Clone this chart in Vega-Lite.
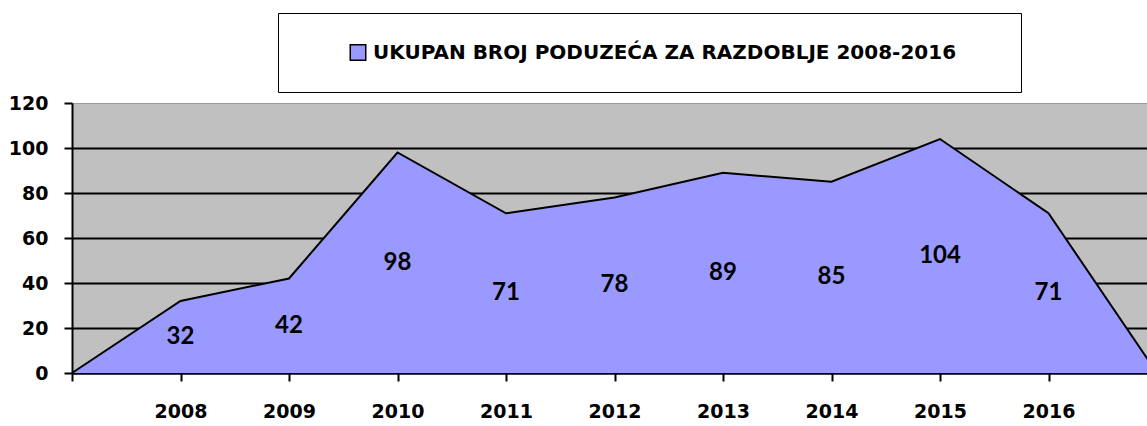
{
  "$schema": "https://vega.github.io/schema/vega-lite/v6.json",
  "width": 1085,
  "height": 270,
  "autosize": {"type": "none"},
  "padding": {"left": 72, "top": 103, "right": 0, "bottom": 53},
  "background": "white",
  "config": {
    "view": {"fill": "#C0C0C0", "stroke": null},
    "font": "DejaVu Sans"
  },
  "data": {
    "values": [
      {"year": 2007, "count": 0},
      {"year": 2008, "count": 32},
      {"year": 2009, "count": 42},
      {"year": 2010, "count": 98},
      {"year": 2011, "count": 71},
      {"year": 2012, "count": 78},
      {"year": 2013, "count": 89},
      {"year": 2014, "count": 85},
      {"year": 2015, "count": 104},
      {"year": 2016, "count": 71},
      {"year": 2017, "count": 0}
    ]
  },
  "layer": [
    {
      "encoding": {
        "x": {
          "field": "year",
          "type": "quantitative",
          "scale": {"domain": [2007, 2017], "nice": false, "zero": false},
          "axis": {
            "values": [2007, 2008, 2009, 2010, 2011, 2012, 2013, 2014, 2015, 2016],
            "format": "d",
            "labelExpr": "datum.value == 2007 ? '' : datum.label",
            "title": null,
            "grid": false,
            "domainColor": "black",
            "domainWidth": 2,
            "tickColor": "black",
            "tickWidth": 2,
            "tickSize": 8,
            "labelFont": "DejaVu Sans",
            "labelFontSize": 19,
            "labelFontWeight": "bold",
            "labelColor": "black",
            "labelPadding": 21,
            "labelFlush": false,
            "labelOverlap": false
          }
        },
        "y": {
          "field": "count",
          "type": "quantitative",
          "scale": {"domain": [0, 120], "nice": false},
          "axis": {
            "values": [0, 20, 40, 60, 80, 100, 120],
            "title": null,
            "grid": true,
            "gridColor": {"condition": {"test": "datum.value == 120", "value": "#9a9a9a"}, "value": "black"},
            "gridWidth": {"condition": {"test": "datum.value == 120", "value": 1}, "value": 2},
            "domainColor": "black",
            "domainWidth": 2,
            "tickColor": "black",
            "tickWidth": 2,
            "tickSize": 8,
            "labelFont": "DejaVu Sans",
            "labelFontSize": 19,
            "labelFontWeight": "bold",
            "labelColor": "black",
            "labelPadding": 16,
            "labelOverlap": false
          }
        }
      },
      "layer": [
        {
          "mark": {"type": "area", "opacity": 1},
          "encoding": {
            "color": {
              "datum": "UKUPAN BROJ PODUZEĆA ZA RAZDOBLJE 2008-2016",
              "type": "nominal",
              "scale": {"range": ["#9999FF"]},
              "legend": {
                "orient": "none",
                "legendX": 206,
                "legendY": -90,
                "padding": 28,
                "clipHeight": 23,
                "fillColor": "white",
                "strokeColor": "black",
                "title": " ",
                "titleOrient": "right",
                "titlePadding": 37,
                "titleFontSize": 4,
                "symbolOffset": 42,
                "symbolType": "square",
                "symbolSize": 240,
                "symbolStrokeColor": "black",
                "symbolStrokeWidth": 1.5,
                "labelFont": "DejaVu Sans",
                "labelFontSize": 20,
                "labelFontWeight": "bold",
                "labelColor": "black",
                "labelLimit": 0,
                "labelOffset": 5,
                "encode": {"legend": {"update": {"strokeWidth": {"value": 2}}}}
              }
            }
          }
        },
        {
          "mark": {"type": "line", "color": "black", "strokeWidth": 2},
          "encoding": {}
        }
      ]
    },
    {
      "transform": [{"filter": "datum.count > 0"}],
      "mark": {"type": "text", "fontSize": 24, "fontWeight": "bold", "color": "black", "baseline": "middle", "font": "Lato"},
      "encoding": {
        "x": {"field": "year", "type": "quantitative"},
        "y": {"field": "count", "type": "quantitative", "scale": {"domain": [0, 240], "nice": false}, "axis": null},
        "text": {"field": "count", "type": "quantitative"}
      }
    }
  ],
  "resolve": {"scale": {"y": "independent"}}
}
